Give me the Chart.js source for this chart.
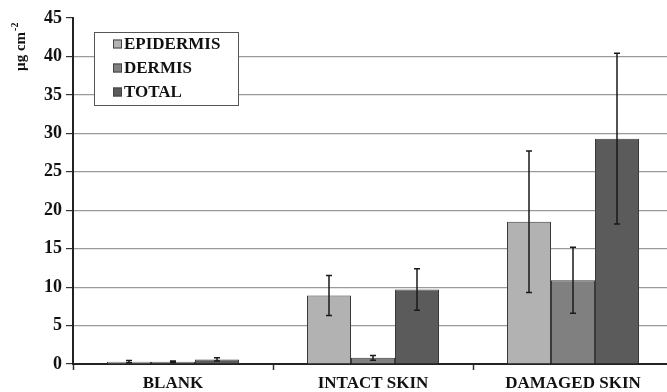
<!DOCTYPE html>
<html>
<head>
<meta charset="utf-8">
<script src="https://cdn.jsdelivr.net/npm/chart.js@4/dist/chart.umd.min.js"></script>
<style>
  html, body { margin: 0; padding: 0; background: #fff; overflow: hidden; }
  #wrap { width: 673px; height: 392px; }
</style>
</head>
<body>
<div id="wrap"><canvas id="c" width="673" height="392"></canvas></div>
<script>
// Skin deposition per compartment (µg cm-2), mean ± SD
const categories = ['BLANK', 'INTACT SKIN', 'DAMAGED SKIN'];
const seriesNames = ['EPIDERMIS', 'DERMIS', 'TOTAL'];
const epidermis = [0.3, 8.9, 18.5];
const dermis = [0.3, 0.8, 10.9];
const total = [0.6, 9.7, 29.3];
const epidermisSD = [0.15, 2.6, 9.2];
const dermisSD = [0.1, 0.3, 4.3];
const totalSD = [0.2, 2.7, 11.1];
const yTicks = [0, 5, 10, 15, 20, 25, 30, 35, 40, 45];

const colors = ['#b2b2b2', '#808080', '#5b5b5b'];
const FONT = '"Liberation Serif", "Times New Roman", serif';

const values = [epidermis, dermis, total];
const errors = [epidermisSD, dermisSD, totalSD];

// Error bars drawn from the SD arrays through the value scale
const errorBars = {
  id: 'errorBars',
  afterDatasetsDraw(chart) {
    const ctx = chart.ctx;
    const y = chart.scales.y;
    ctx.save();
    ctx.strokeStyle = '#1a1a1a';
    ctx.lineWidth = 1.5;
    chart.data.datasets.forEach((ds, i) => {
      const meta = chart.getDatasetMeta(i);
      meta.data.forEach((bar, j) => {
        const v = ds.data[j], e = ds.sd[j];
        const yt = y.getPixelForValue(v + e);
        const yb = y.getPixelForValue(Math.max(0, v - e));
        const x = bar.x;
        ctx.beginPath();
        ctx.moveTo(x, yt); ctx.lineTo(x, yb);
        ctx.moveTo(x - 3, yt); ctx.lineTo(x + 3, yt);
        ctx.moveTo(x - 3, yb); ctx.lineTo(x + 3, yb);
        ctx.stroke();
      });
    });
    ctx.restore();
  }
};

// Boxed legend inside the plot and the rotated unit title
const decorations = {
  id: 'decorations',
  afterDraw(chart) {
    const ctx = chart.ctx;
    ctx.save();
    // legend box
    const bx = 94.5, by = 32.5, bw = 144, bh = 73;
    ctx.fillStyle = '#fff';
    ctx.fillRect(bx, by, bw, bh);
    ctx.strokeStyle = '#555';
    ctx.lineWidth = 1;
    ctx.strokeRect(bx, by, bw, bh);
    ctx.font = 'bold 17px ' + FONT;
    ctx.textBaseline = 'middle';
    seriesNames.forEach((name, i) => {
      const cy = 44 + i * 24;
      ctx.fillStyle = colors[i];
      ctx.fillRect(113, cy - 4.5, 9, 9);
      ctx.strokeStyle = '#444';
      ctx.strokeRect(113.5, cy - 4, 8, 8);
      ctx.fillStyle = '#111';
      ctx.fillText(name, 124, cy + 1);
    });
    // unit title
    ctx.translate(25, 71);
    ctx.rotate(-Math.PI / 2);
    ctx.fillStyle = '#111';
    ctx.textBaseline = 'alphabetic';
    ctx.font = 'bold 15px ' + FONT;
    ctx.fillText('µg cm', 0, 0);
    const w = ctx.measureText('µg cm').width;
    ctx.font = 'bold 10px ' + FONT;
    ctx.fillText('-2', w + 1, -7);
    ctx.restore();
  }
};

new Chart(document.getElementById('c'), {
  type: 'bar',
  data: {
    labels: categories,
    datasets: seriesNames.map((name, i) => ({
      label: name,
      data: values[i],
      sd: errors[i],
      backgroundColor: colors[i],
      borderColor: '#3a3a3a',
      borderWidth: 1,
      categoryPercentage: 0.66,
      barPercentage: 1.0
    }))
  },
  options: {
    responsive: false,
    animation: false,
    layout: { padding: { top: 18, right: 0, left: 0, bottom: 0 } },
    plugins: { legend: { display: false }, tooltip: { enabled: false } },
    scales: {
      x: {
        afterFit(s) { s.height = 28; },
        grid: {
          offset: true,
          drawOnChartArea: false,
          drawTicks: true,
          tickLength: 6,
          tickColor: '#333',
          tickWidth: 1.5
        },
        border: { color: '#222', width: 2 },
        ticks: {
          color: '#111',
          font: { family: FONT, size: 17, weight: 'bold' },
          padding: 3,
          maxRotation: 0
        }
      },
      y: {
        min: 0,
        max: 45,
        afterFit(s) { s.width = 73; },
        afterBuildTicks(s) { s.ticks = yTicks.map(v => ({ value: v })); },
        grid: {
          color: c => (c.tick && (c.tick.value === 0 || c.tick.value === 45)) ? 'rgba(0,0,0,0)' : '#9a9a9a',
          lineWidth: 1.2,
          tickColor: '#333',
          tickLength: 7,
          tickWidth: 1.2
        },
        border: { color: '#222', width: 2 },
        ticks: {
          color: '#111',
          font: { family: FONT, size: 18, weight: 'bold' },
          padding: 4
        }
      }
    }
  },
  plugins: [errorBars, decorations]
});
</script>
</body>
</html>
